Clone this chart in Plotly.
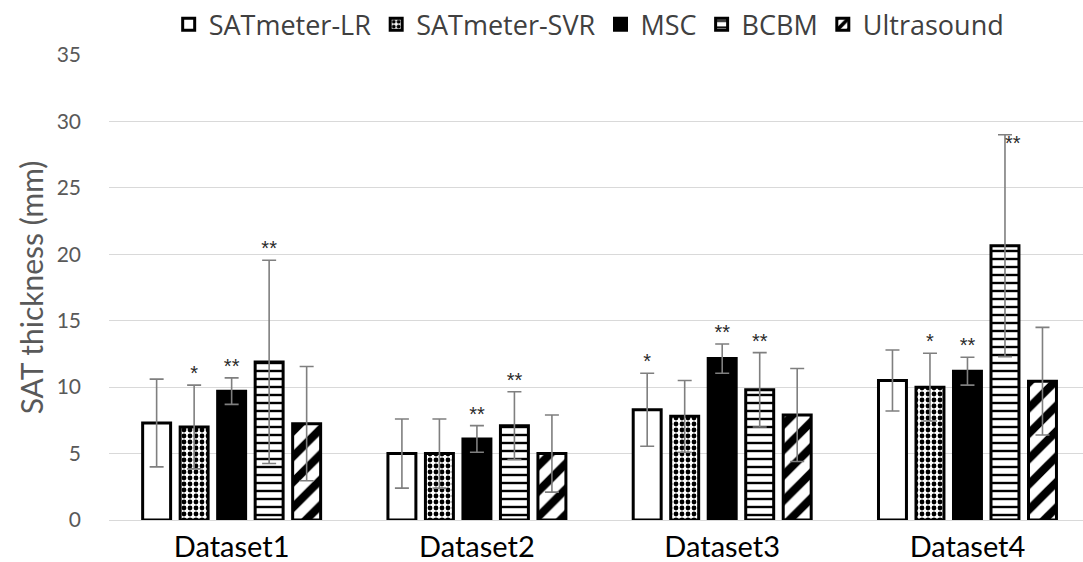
import plotly.graph_objects as go

categories = ["Dataset1", "Dataset2", "Dataset3", "Dataset4"]
series_names = ["SATmeter-LR", "SATmeter-SVR", "MSC", "BCBM", "Ultrasound"]

lr_mean = [7.3, 5.0, 8.3, 10.5]
lr_sd = [3.3, 2.6, 2.75, 2.3]
svr_mean = [7.0, 5.0, 7.8, 10.0]
svr_sd = [3.15, 2.6, 2.7, 2.55]
msc_mean = [9.7, 6.1, 12.15, 11.2]
msc_sd = [1.0, 1.0, 1.1, 1.05]
bcbm_mean = [11.9, 7.1, 9.8, 20.65]
bcbm_sd = [7.65, 2.55, 2.8, 8.35]
us_mean = [7.25, 5.0, 7.9, 10.45]
us_sd = [4.3, 2.9, 3.5, 4.05]

lr_sig = ["", "", "*", ""]
svr_sig = ["*", "", "", "*"]
msc_sig = ["**", "**", "**", "**"]
bcbm_sig = ["**", "**", "**", "**"]
us_sig = ["", "", "", ""]

means = [lr_mean, svr_mean, msc_mean, bcbm_mean, us_mean]
sds = [lr_sd, svr_sd, msc_sd, bcbm_sd, us_sd]
sigs = [lr_sig, svr_sig, msc_sig, bcbm_sig, us_sig]

styles = [
    dict(color="white"),
    dict(color="white", pattern=dict(shape=".", fgcolor="black", bgcolor="white", size=6, solidity=0.5, fgopacity=1)),
    dict(color="black"),
    dict(color="white", pattern=dict(shape="-", fgcolor="black", bgcolor="white", size=8, solidity=0.3, fgopacity=1)),
    dict(color="white", pattern=dict(shape="/", fgcolor="black", bgcolor="white", size=18, solidity=0.45, fgopacity=1)),
]

slot = 0.1529
barw = 0.114
FONT = "Lato, Open Sans, sans-serif"

fig = go.Figure()
for j, name in enumerate(series_names):
    xs = [i + (j - 2) * slot for i in range(len(categories))]
    fig.add_trace(go.Bar(
        x=xs, y=means[j], width=barw, name=name,
        marker=dict(line=dict(color="black", width=3), **styles[j]),
        error_y=dict(type="data", array=sds[j], visible=True, color="#7f7f7f", thickness=1.6, width=7),
        hoverinfo="skip",
    ))

for j in range(len(series_names)):
    xs = [i + (j - 2) * slot for i in range(len(categories))]
    ys = [m + s for m, s in zip(means[j], sds[j])]
    pos = ["top center"] * len(categories)
    if j == 3:
        pos[3] = "bottom right"
    fig.add_trace(go.Scatter(
        x=xs, y=ys, mode="text", text=sigs[j], textposition=pos,
        textfont=dict(size=20, color="#2a2a2a", family="Liberation Sans, sans-serif"),
        showlegend=False, cliponaxis=False, hoverinfo="skip",
    ))

fig.update_layout(
    width=1083, height=562,
    margin=dict(l=109, r=0, t=55, b=42, autoexpand=False),
    paper_bgcolor="white", plot_bgcolor="white",
    barmode="overlay",
    font=dict(family=FONT),
    legend=dict(
        orientation="h", x=0.493, xanchor="center", y=1.118, yanchor="top",
        font=dict(family="Open Sans, sans-serif", size=27, color="#404040"),
        itemwidth=30, tracegroupgap=0,
    ),
    xaxis=dict(
        range=[-0.5, 3.471], tickvals=list(range(len(categories))), ticktext=categories,
        showgrid=False, zeroline=False, showline=True, linecolor="#d9d9d9", linewidth=1,
        ticks="", tickfont=dict(family=FONT, size=29, color="black"), automargin=False,
        ticklabelstandoff=1,
    ),
    yaxis=dict(
        range=[0, 35], dtick=5, showgrid=True, gridcolor="#d9d9d9", gridwidth=1,
        zeroline=False, showline=False, ticks="", automargin=False,
        tickfont=dict(family=FONT, size=21, color="#595959"),
        ticklabelstandoff=27,
        title=dict(text="SAT thickness (mm)", font=dict(family=FONT, size=30, color="#595959"), standoff=4),
    ),
)

fig.write_html(
    "out.html",
    config={"displayModeBar": False},
    post_script="document.body.style.margin='0';document.body.style.overflow='hidden';",
)
